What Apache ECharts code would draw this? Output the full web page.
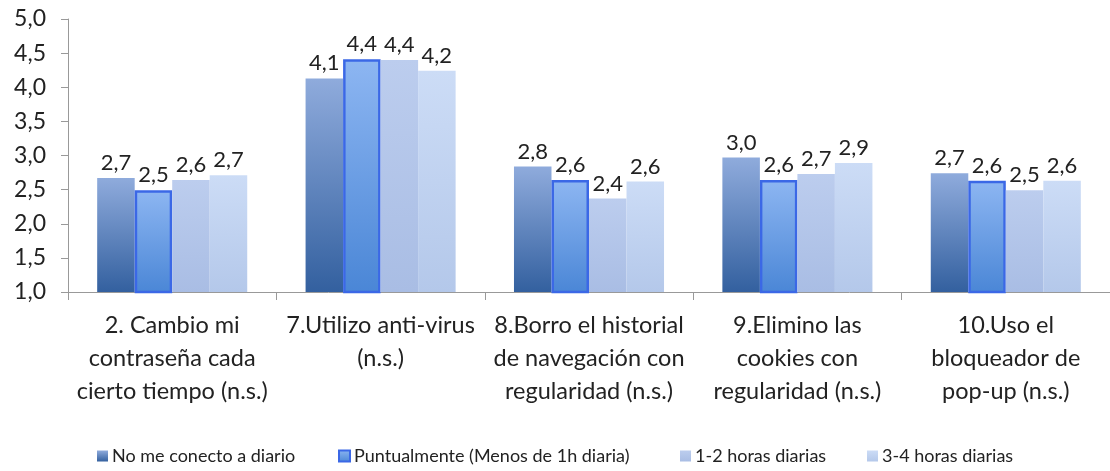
<!DOCTYPE html>
<html>
<head>
<meta charset="utf-8">
<script src="https://cdn.jsdelivr.net/npm/echarts@6/dist/echarts.min.js"></script>
<style>
  html, body { margin: 0; padding: 0; background: #fff; overflow: hidden; }
  #chart { width: 1110px; height: 471px; }
</style>
</head>
<body>
<div id="chart"></div>
<script>
// categorías del eje X
const categories = [
  '2. Cambio mi\ncontraseña cada\ncierto tiempo (n.s.)',
  '7.Utilizo anti-virus\n(n.s.)',
  '8.Borro el historial\nde navegación con\nregularidad (n.s.)',
  '9.Elimino las\ncookies con\nregularidad (n.s.)',
  '10.Uso el\nbloqueador de\npop-up (n.s.)'
];
const seriesNames = [
  'No me conecto a diario',
  'Puntualmente (Menos de 1h diaria)',
  '1-2 horas diarias',
  '3-4 horas diarias'
];
// valores
const noConecto = [2.67, 4.13, 2.84, 2.97, 2.74];
const puntualmente = [2.49, 4.41, 2.64, 2.64, 2.63];
const horas12 = [2.64, 4.40, 2.37, 2.73, 2.49];
const horas34 = [2.71, 4.24, 2.62, 2.89, 2.63];

const fmt = v => v.toFixed(1).replace('.', ',');
const font = 'Lato, "Open Sans", sans-serif';

function grad(top, bottom) {
  return new echarts.graphic.LinearGradient(0, 0, 0, 1, [
    { offset: 0, color: top },
    { offset: 1, color: bottom }
  ]);
}

const styles = [
  { color: grad('#8fabdc', '#33609f') },
  { color: grad('#8db6f2', '#4a86d6'), borderColor: '#3b68e6', borderWidth: 2.5 },
  { color: grad('#bccdee', '#a9bde4') },
  { color: grad('#ccdcf6', '#b4c8ea') }
];
const legendLeft = [97, 338, 680, 867];
const dataSets = [noConecto, puntualmente, horas12, horas34];

const myChart = echarts.init(document.getElementById('chart'));
myChart.setOption({
  animation: false,
  textStyle: { fontFamily: font },
  grid: { left: 68, right: -19, top: 19, bottom: 179, containLabel: false },
  legend: seriesNames.map((n, i) => ({
    data: [n],
    left: legendLeft[i],
    top: 447,
    padding: 0,
    icon: 'rect',
    itemWidth: 11,
    itemHeight: 11,
    itemGap: 5,
    textStyle: { fontFamily: font, fontSize: 18, color: '#222', padding: [0, 0, 0, -1] }
  })),
  xAxis: {
    type: 'category',
    data: categories,
    axisLine: { lineStyle: { color: '#999' } },
    axisTick: { show: true, length: 8, lineStyle: { color: '#999' } },
    axisLabel: {
      interval: 0,
      margin: 17,
      fontSize: 23.5,
      lineHeight: 33,
      color: '#222',
      fontFamily: font
    }
  },
  yAxis: {
    type: 'value',
    min: 1,
    max: 5,
    interval: 0.5,
    axisLine: { show: true, lineStyle: { color: '#999' } },
    axisTick: { show: true, length: 7, lineStyle: { color: '#999' } },
    splitLine: { show: false },
    axisLabel: {
      formatter: fmt,
      fontSize: 23,
      margin: 22,
      color: '#222',
      fontFamily: font
    }
  },
  series: dataSets.map((d, i) => ({
    name: seriesNames[i],
    type: 'bar',
    data: d,
    barGap: '0%',
    barCategoryGap: '28%',
    itemStyle: styles[i],
    label: {
      show: true,
      position: 'top',
      distance: 4,
      formatter: p => fmt(p.value),
      fontSize: 22,
      color: '#222',
      fontFamily: font
    }
  }))
});
</script>
</body>
</html>
